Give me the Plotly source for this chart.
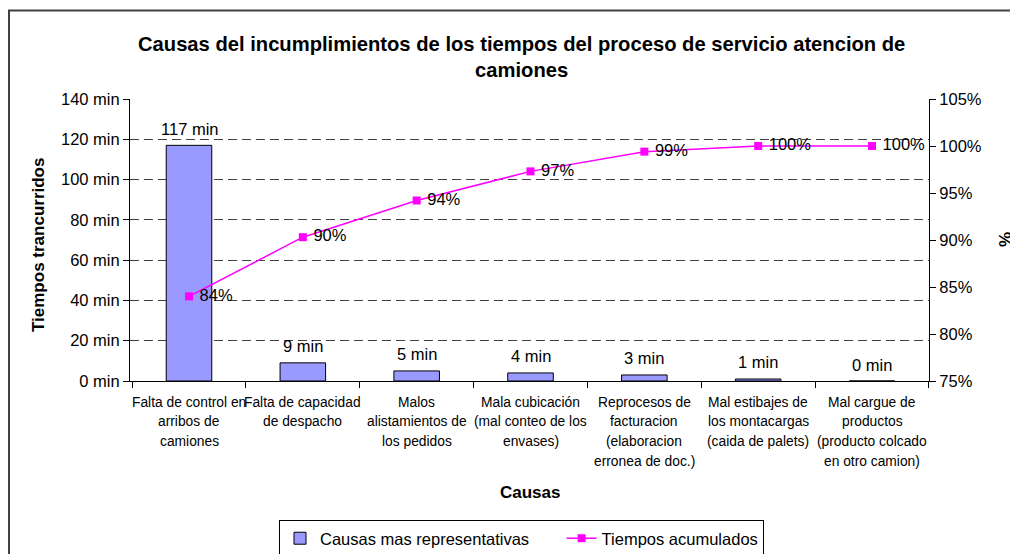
import plotly.graph_objects as go

# ---- data ----
causas = [
    "Falta de control en<br>arribos de<br>camiones",
    "Falta de capacidad<br>de despacho",
    "Malos<br>alistamientos de<br>los pedidos",
    "Mala cubicación<br>(mal conteo de los<br>envases)",
    "Reprocesos de<br>facturacion<br>(elaboracion<br>erronea de doc.)",
    "Mal estibajes de<br>los montacargas<br>(caida de palets)",
    "Mal cargue de<br>productos<br>(producto colcado<br>en otro camion)",
]
tiempos_min = [117, 9, 5, 4, 3, 1, 0]
acumulado_pct = [84.0, 90.3, 94.2, 97.3, 99.4, 100.0, 100.0]
y_ticks_min = [0, 20, 40, 60, 80, 100, 120, 140]
y2_ticks_pct = [75, 80, 85, 90, 95, 100, 105]

FONT = "Liberation Sans, Arial, sans-serif"

OFF = 8  # default page body margin
W, H = 1018 - OFF, 554 - OFF
L, R, T, B = 130, 929, 99, 381  # plot area in page pixels
pw, ph = R - L, B - T


def px(x):
    return (x - L) / pw


def py(y):
    return (B - y) / ph


fig = go.Figure()
fig.add_trace(go.Bar(
    x=causas, y=tiempos_min,
    name="Causas mas representativas" + "\u00a0" * 6,
    marker=dict(color="#9999FF", line=dict(color="black", width=1)),
    width=0.4, yaxis="y",
))
fig.add_trace(go.Scatter(
    x=causas, y=acumulado_pct, name="Tiempos acumulados",
    mode="lines+markers+text", yaxis="y2",
    line=dict(color="#FF00FF", width=1.5),
    marker=dict(symbol="square", size=8, color="#FF00FF"),
    texttemplate="\u00a0%{y:.0f}%", textposition="middle right",
    textfont=dict(family=FONT, size=16.5, color="black"),
    cliponaxis=False,
))

annotations = []
for c, v in zip(causas, tiempos_min):
    annotations.append(dict(
        x=c, y=v, xref="x", yref="y", text=f"{v} min", showarrow=False,
        yshift=16.5, yanchor="middle", xanchor="center",
        font=dict(family=FONT, size=16.5, color="black"),
    ))
# category labels, one line at a time for the reference line spacing
for c in causas:
    for i, line in enumerate(c.split("<br>")):
        annotations.append(dict(
            x=c, y=0, xref="x", yref="paper", text=line, showarrow=False,
            yshift=-(21 + 19.8 * i), yanchor="middle", xanchor="center",
            font=dict(family=FONT, size=13.8, color="black"),
        ))

annotations += [
    dict(x=px(521), y=py(57), xref="paper", yref="paper", showarrow=False,
         text="<b>Causas del incumplimientos de los tiempos del proceso de servicio atencion de<br>camiones</b>",
         font=dict(family=FONT, size=20.2, color="black"), yanchor="middle", xanchor="center"),
    dict(x=px(38), y=py(245), xref="paper", yref="paper", showarrow=False,
         text="<b>Tiempos trancurridos</b>", textangle=-90,
         xanchor="center", yanchor="middle",
         font=dict(family=FONT, size=17, color="black")),
    dict(x=px(1005), y=py(240), xref="paper", yref="paper", showarrow=False,
         text="<b>%</b>", textangle=-90,
         xanchor="center", yanchor="middle",
         font=dict(family=FONT, size=17, color="black")),
    dict(x=px(530), y=py(492), xref="paper", yref="paper", showarrow=False,
         text="<b>Causas</b>", xanchor="center", yanchor="middle",
         font=dict(family=FONT, size=17, color="black")),
]

fig.update_layout(
    template="none",
    width=W, height=H,
    margin=dict(l=L - OFF, r=1018 - R, t=T - OFF, b=554 - B, pad=0),
    paper_bgcolor="white", plot_bgcolor="white",
    font=dict(family=FONT, size=16.5, color="black"),
    showlegend=True,
    legend=dict(orientation="h", xref="container", yref="container",
                x=(279 - OFF) / W, y=(554 - 520) / H, xanchor="left", yanchor="top",
                bordercolor="black", borderwidth=1, bgcolor="white",
                font=dict(family=FONT, size=16.5, color="black")),
    xaxis=dict(type="category", showline=True, linecolor="black", linewidth=1,
               ticks="outside", tickson="boundaries", ticklen=6, tickcolor="black",
               showticklabels=False, showgrid=False, automargin=False),
    yaxis=dict(range=[0, 140], tickvals=y_ticks_min,
               ticktext=[f"{v} min" for v in y_ticks_min],
               showline=True, linecolor="black", linewidth=1,
               ticks="outside", ticklen=6, tickcolor="black",
               showgrid=True, gridcolor="#404040", griddash="9px,5px", gridwidth=1,
               zeroline=False, automargin=False, tickfont=dict(family=FONT, size=16.5)),
    yaxis2=dict(range=[75, 105], tickvals=y2_ticks_pct,
                ticktext=[f"{v}%" for v in y2_ticks_pct],
                overlaying="y", side="right", showline=True, linecolor="black",
                linewidth=1, ticks="outside", ticklen=6, tickcolor="black",
                showgrid=False, zeroline=False, automargin=False,
                tickfont=dict(family=FONT, size=16.5)),
    annotations=annotations,
    shapes=[dict(type="rect", xref="paper", yref="paper",
                 x0=px(9), x1=px(1040), y0=py(600), y1=py(10.5),
                 line=dict(color="#404040", width=2), fillcolor="rgba(0,0,0,0)",
                 layer="below")],
)

fig.write_html("out.html")
